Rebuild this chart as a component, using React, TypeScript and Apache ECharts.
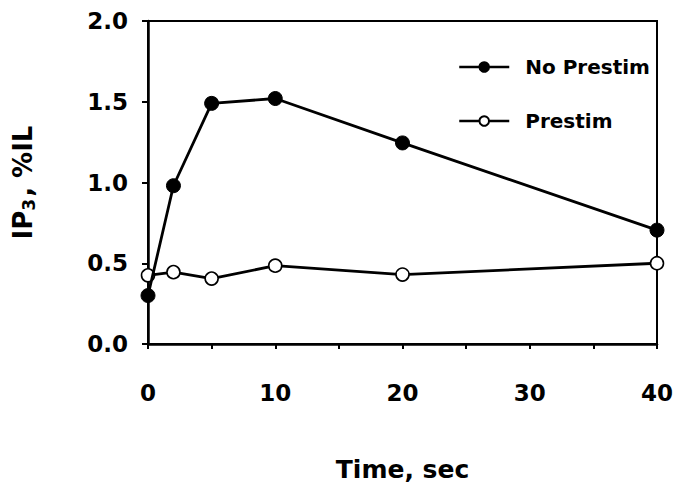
import React, { useEffect, useRef } from "react";
import * as echarts from "echarts";

const timeSec = [0, 2, 5, 10, 20, 40];
const noPrestim = [0.30, 0.98, 1.49, 1.52, 1.245, 0.705];
const prestim = [0.425, 0.445, 0.405, 0.485, 0.43, 0.5];
const xTickValues = [0, 10, 20, 30, 40];

const FONT = "DejaVu Sans";

export default function App() {
  const ref = useRef<HTMLDivElement>(null);
  useEffect(() => {
    if (!ref.current) return;
    const chart = echarts.init(ref.current, undefined, { renderer: "svg" });
    chart.setOption({
      animation: false,
      backgroundColor: "#ffffff",
      grid: {
        left: 148,
        right: 19,
        top: 21,
        bottom: 138,
        show: true,
        borderColor: "#000",
        borderWidth: 2,
        containLabel: false,
        outerBoundsMode: "none",
      },
      legend: {
        orient: "vertical",
        left: 453,
        top: 52,
        itemWidth: 50,
        itemHeight: 12,
        itemGap: 34,
        lineStyle: { width: 2.5, color: "#000" },
        textStyle: {
          fontFamily: FONT,
          fontWeight: "bold",
          fontSize: 20,
          color: "#000",
          lineHeight: 20,
          padding: [0, 0, 0, 11],
        },
        data: ["No Prestim", "Prestim"],
      },
      xAxis: {
        type: "value",
        min: 0,
        max: 40,
        interval: 5,
        name: "Time, sec",
        nameLocation: "middle",
        nameGap: 114,
        nameTextStyle: { fontFamily: FONT, fontWeight: "bold", fontSize: 25, lineHeight: 22, color: "#000" },
        axisLine: { show: true, lineStyle: { color: "#000", width: 2.5 } },
        axisTick: { show: true, length: 5, inside: false, lineStyle: { color: "#000", width: 2 } },
        axisLabel: {
          margin: 37,
          fontFamily: FONT,
          fontWeight: "bold",
          fontSize: 23,
          color: "#000",
          formatter: (v: number) => (xTickValues.includes(v) ? String(v) : ""),
        },
        splitLine: { show: false },
      },
      yAxis: {
        type: "value",
        min: 0,
        max: 2,
        interval: 0.5,
        name: "IP{sub|3}, %IL",
        nameLocation: "middle",
        nameRotate: 90,
        nameGap: 111,
        nameTextStyle: {
          fontFamily: FONT,
          fontWeight: "bold",
          fontSize: 26,
          color: "#000",
          rich: {
            sub: {
              fontFamily: FONT,
              fontWeight: "bold",
              fontSize: 17,
              color: "#000",
              verticalAlign: "bottom",
              padding: [12, 2, 0, 0],
            },
          },
        },
        axisLine: { show: true, lineStyle: { color: "#000", width: 2.5 } },
        axisTick: { show: true, length: 6, inside: false, lineStyle: { color: "#000", width: 2 } },
        axisLabel: {
          margin: 20,
          fontFamily: FONT,
          fontWeight: "bold",
          fontSize: 23,
          color: "#000",
          formatter: (v: number) => v.toFixed(1),
        },
        splitLine: { show: false },
      },
      series: [
        {
          name: "No Prestim",
          type: "line",
          clip: false,
          data: timeSec.map((t, i) => [t, noPrestim[i]]),
          symbol: "circle",
          symbolSize: 14,
          lineStyle: { color: "#000", width: 2.8 },
          itemStyle: { color: "#000", borderColor: "#000", borderWidth: 1 },
          z: 3,
        },
        {
          name: "Prestim",
          type: "line",
          clip: false,
          data: timeSec.map((t, i) => [t, prestim[i]]),
          symbol: "circle",
          symbolSize: 13,
          lineStyle: { color: "#000", width: 2.8 },
          itemStyle: { color: "#fff", borderColor: "#000", borderWidth: 1.6 },
          z: 2,
        },
      ],
    });
    return () => chart.dispose();
  }, []);
  return <div ref={ref} style={{ width: 676, height: 482, position: "absolute", left: 0, top: 0 }} />;
}
